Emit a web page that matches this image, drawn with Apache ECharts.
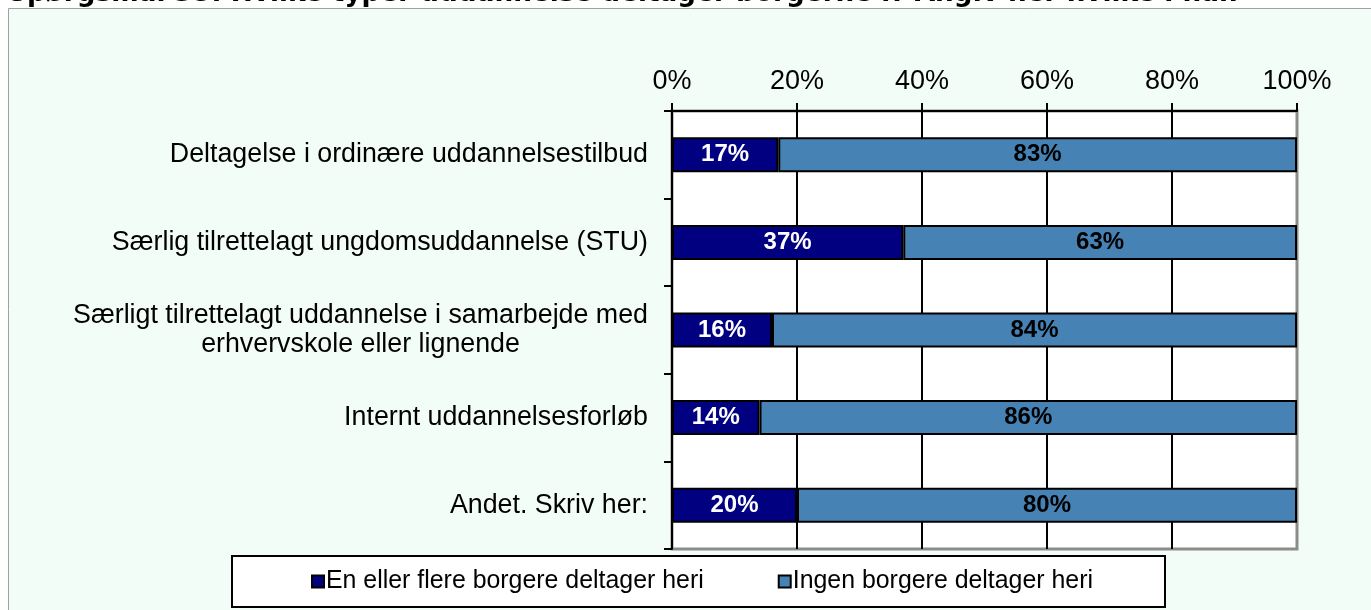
<!DOCTYPE html>
<html>
<head>
<meta charset="utf-8">
<script src="https://cdn.jsdelivr.net/npm/echarts@6/dist/echarts.min.js"></script>
<style>
  html, body { margin: 0; padding: 0; background: #ffffff; }
  #chart { width: 1371px; height: 610px; }
</style>
</head>
<body>
<div id="chart"></div>
<script>
var categories = [
  'Deltagelse i ordinære uddannelsestilbud',
  'Særlig tilrettelagt ungdomsuddannelse (STU)',
  'Særligt tilrettelagt uddannelse i samarbejde med\nerhvervskole eller lignende',
  'Internt uddannelsesforløb',
  'Andet. Skriv her:'
];
var seriesNames = ['En eller flere borgere deltager heri', 'Ingen borgere deltager heri'];
var withCitizens = [17, 37, 16, 14, 20];
var withoutCitizens = [83, 63, 84, 86, 80];

var chart = echarts.init(document.getElementById('chart'));

var font = 'Liberation Sans, Arial, sans-serif';

var option = {
  backgroundColor: '#ffffff',
  animation: false,
  title: {
    text: 'Spørgsmål 35: Hvilke typer uddannelse deltager borgerne i? Angiv her hvilke i har.',
    left: 8,
    top: -19,
    padding: 0,
    textStyle: { fontFamily: 'DejaVu Sans, Verdana, sans-serif', fontWeight: 'bold', fontSize: 26.3, color: '#000' }
  },
  graphic: [{
    type: 'rect',
    z: -10,
    shape: { x: 8.5, y: 8.5, width: 1400, height: 700 },
    style: { fill: '#f3fdf8', stroke: '#a0a0a0', lineWidth: 1 }
  }],
  legend: {
    data: seriesNames,
    left: 232,
    top: 556,
    orient: 'horizontal',
    backgroundColor: '#ffffff',
    borderColor: '#000',
    borderWidth: 2,
    borderRadius: 0,
    padding: [13, 72, 13, 79],
    itemGap: 74,
    itemWidth: 12,
    itemHeight: 12,
    icon: 'rect',
    textStyle: { fontFamily: font, fontSize: 24.9, color: '#000', padding: [0, 0, 0, -3] }
  },
  grid: {
    left: 672,
    right: 74,
    top: 111,
    bottom: 61,
    show: true,
    backgroundColor: '#ffffff',
    borderColor: '#8c8c8c',
    borderWidth: 3
  },
  xAxis: {
    type: 'value',
    position: 'top',
    min: 0,
    max: 100,
    interval: 20,
    axisLine: { show: true, lineStyle: { color: '#000', width: 2 } },
    axisTick: { show: true, length: 8, lineStyle: { color: '#000', width: 2 } },
    axisLabel: { formatter: '{value}%', fontFamily: font, fontSize: 27, color: '#000', margin: 16 },
    splitLine: { show: true, showMinLine: false, showMaxLine: false, lineStyle: { color: '#000', width: 2 } }
  },
  yAxis: {
    type: 'category',
    inverse: true,
    data: categories,
    axisLine: { show: true, lineStyle: { color: '#000', width: 2 } },
    axisTick: { show: true, length: 8, alignWithLabel: false, lineStyle: { color: '#000', width: 2 } },
    axisLabel: {
      margin: 24,
      color: '#000',
      fontFamily: font,
      fontSize: 26.8,
      formatter: function (v) {
        return v.split('\n').map(function (s) { return '{c|' + s + '}'; }).join('\n');
      },
      rich: { c: { align: 'center', fontFamily: font, fontSize: 26.8, color: '#000', lineHeight: 29 } }
    },
    splitLine: { show: false }
  },
  series: [
    {
      name: seriesNames[0],
      type: 'bar',
      stack: 'total',
      barWidth: 35,
      data: withCitizens,
      itemStyle: { color: '#000080', borderColor: '#000', borderWidth: 2 },
      label: { show: true, position: 'inside', formatter: '{c}%', color: '#fff', fontFamily: font, fontWeight: 'bold', fontSize: 24 }
    },
    {
      name: seriesNames[1],
      type: 'bar',
      stack: 'total',
      barWidth: 35,
      data: withoutCitizens,
      itemStyle: { color: '#4682b4', borderColor: '#000', borderWidth: 2 },
      label: { show: true, position: 'inside', formatter: '{c}%', color: '#000', fontFamily: font, fontWeight: 'bold', fontSize: 24 }
    }
  ]
};

chart.setOption(option);
</script>
</body>
</html>
